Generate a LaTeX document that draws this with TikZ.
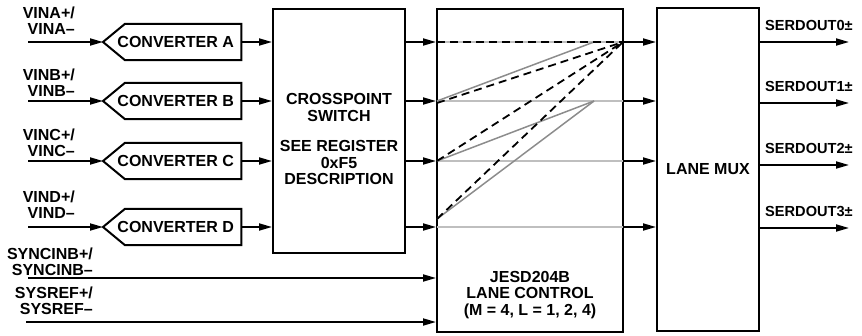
\documentclass[tikz,border=0pt]{standalone}
\usepackage{fontspec}
\setmainfont{Liberation Sans}
\usetikzlibrary{arrows.meta}
\begin{document}
\begin{tikzpicture}[x=1pt,y=-1pt,
  lbl/.style={font=\fontsize{16}{16.5}\selectfont\bfseries, inner sep=0pt},
  outlbl/.style={font=\fontsize{14.6}{16}\selectfont\bfseries, inner sep=0pt},
  arr/.style={line width=1.8pt, -{Triangle[length=13pt,width=7pt]}},
  boxed/.style={draw, line width=2pt, inner sep=0pt},
  conv/.style={rectangle, minimum width=138pt, minimum height=36pt, inner sep=0pt,
    anchor=west, font=\fontsize{16}{17}\selectfont\bfseries},
  convline/.style={line width=2pt, line join=miter},
  grayline/.style={draw=black!25, line width=1.5pt},
  graydiag/.style={draw=black!45, line width=1.5pt},
  blkdash/.style={line width=1.8pt, dash pattern=on 8pt off 5pt}
]
\useasboundingbox (0,0) rectangle (862,335);

% blocks
\node[boxed, minimum width=132pt, minimum height=244pt] (xs) at (339,131) {};
\node[boxed, minimum width=186pt, minimum height=323pt] (jesd) at (530,170.5) {};
\node[boxed, minimum width=102pt, minimum height=323pt] (mux) at (708,169.5) {};

\node[lbl, align=center] (xstext) at (339,139) {CROSSPOINT\\SWITCH\\[14pt]SEE REGISTER\\0xF5\\DESCRIPTION};
\node[lbl, align=center, anchor=south] (jtext) at (530,319) {JESD204B\\LANE CONTROL\\(M = 4, L = 1, 2, 4)};
\node[lbl] (muxtext) at (708,169) {LANE MUX};

% converters
\node[conv] (convA) at (103,42) {\hspace*{7pt}CONVERTER A};
\node[conv] (convB) at (103,101) {\hspace*{7pt}CONVERTER B};
\node[conv] (convC) at (103,161) {\hspace*{7pt}CONVERTER C};
\node[conv] (convD) at (103,227) {\hspace*{7pt}CONVERTER D};
\foreach \n in {convA,convB,convC,convD}
  \draw[convline] (\n.west) -- ([xshift=22pt]\n.north west) -- (\n.north east)
    -- (\n.south east) -- ([xshift=22pt]\n.south west) -- cycle;

% input labels
\node[lbl, align=right, anchor=south east] (labA) at (75,35) {VINA+/\\VINA–};
\node[lbl, align=right, anchor=south east] (labB) at (75,97) {VINB+/\\VINB–};
\node[lbl, align=right, anchor=south east] (labC) at (75,157) {VINC+/\\VINC–};
\node[lbl, align=right, anchor=south east] (labD) at (75,219) {VIND+/\\VIND–};
\node[lbl, align=right, anchor=south east] (labS) at (93,276) {SYNCINB+/\\SYNCINB–};
\node[lbl, align=right, anchor=south east] (labR) at (93,315) {SYSREF+/\\SYSREF–};

% input arrows
\coordinate (inA) at (28,42);
\coordinate (inB) at (28,101);
\coordinate (inC) at (28,161);
\coordinate (inD) at (28,227);
\coordinate (inS) at (28,278);
\coordinate (inR) at (26,322);
\draw[arr] (inA) -- (convA.west);
\draw[arr] (inB) -- (convB.west);
\draw[arr] (inC) -- (convC.west);
\draw[arr] (inD) -- (convD.west);
\draw[arr] (inS) -- (inS -| jesd.west);
\draw[arr] (inR) -- (inR -| jesd.west);

% converters to crosspoint
\draw[arr] (convA.east) -- (convA.east -| xs.west);
\draw[arr] (convB.east) -- (convB.east -| xs.west);
\draw[arr] (convC.east) -- (convC.east -| xs.west);
\draw[arr] (convD.east) -- (convD.east -| xs.west);

% crosspoint to jesd
\draw[arr] (convA.east -| xs.east) -- (convA.east -| jesd.west);
\draw[arr] (convB.east -| xs.east) -- (convB.east -| jesd.west);
\draw[arr] (convC.east -| xs.east) -- (convC.east -| jesd.west);
\draw[arr] (convD.east -| xs.east) -- (convD.east -| jesd.west);

% internal lane lines
\coordinate (jA) at (437,42);
\coordinate (jB) at (437,101);
\coordinate (jC) at (437,161);
\coordinate (jD) at (437,219);
\coordinate (jDr) at (437,227);
\coordinate (gA) at (594,42);
\coordinate (gB) at (594,101);
\coordinate (eA) at (623,42);
\coordinate (eB) at (623,101);
\coordinate (eC) at (623,161);
\coordinate (eD) at (623,227);
\draw[grayline] (jA) -- (eA);
\draw[grayline] (jB) -- (eB);
\draw[grayline] (jC) -- (eC);
\draw[grayline] (jDr) -- (eD);
\draw[graydiag] (jB) -- (gA);
\draw[graydiag] (jC) -- (gB);
\draw[graydiag] (jD) -- (gB);
\draw[blkdash] (jA) -- (eA);
\draw[blkdash] (437,103) -- (eA);
\draw[blkdash] (jC) -- (eA);
\draw[blkdash] (jD) -- (eA);

% jesd to mux
\draw[arr] (eA) -- (eA -| mux.west);
\draw[arr] (eB) -- (eB -| mux.west);
\draw[arr] (eC) -- (eC -| mux.west);
\draw[arr] (eD) -- (eD -| mux.west);

% outputs
\coordinate (o0) at (849,42);
\coordinate (o1) at (849,103);
\coordinate (o2) at (849,165);
\coordinate (o3) at (849,228);
\draw[arr] (o0 -| mux.east) -- (o0);
\draw[arr] (o1 -| mux.east) -- (o1);
\draw[arr] (o2 -| mux.east) -- (o2);
\draw[arr] (o3 -| mux.east) -- (o3);
\node[outlbl, anchor=south west] (t0) at (765,31) {SERDOUT0±};
\node[outlbl, anchor=south west] (t1) at (765,92) {SERDOUT1±};
\node[outlbl, anchor=south west] (t2) at (765,154) {SERDOUT2±};
\node[outlbl, anchor=south west] (t3) at (765,217) {SERDOUT3±};
\end{tikzpicture}
\end{document}
